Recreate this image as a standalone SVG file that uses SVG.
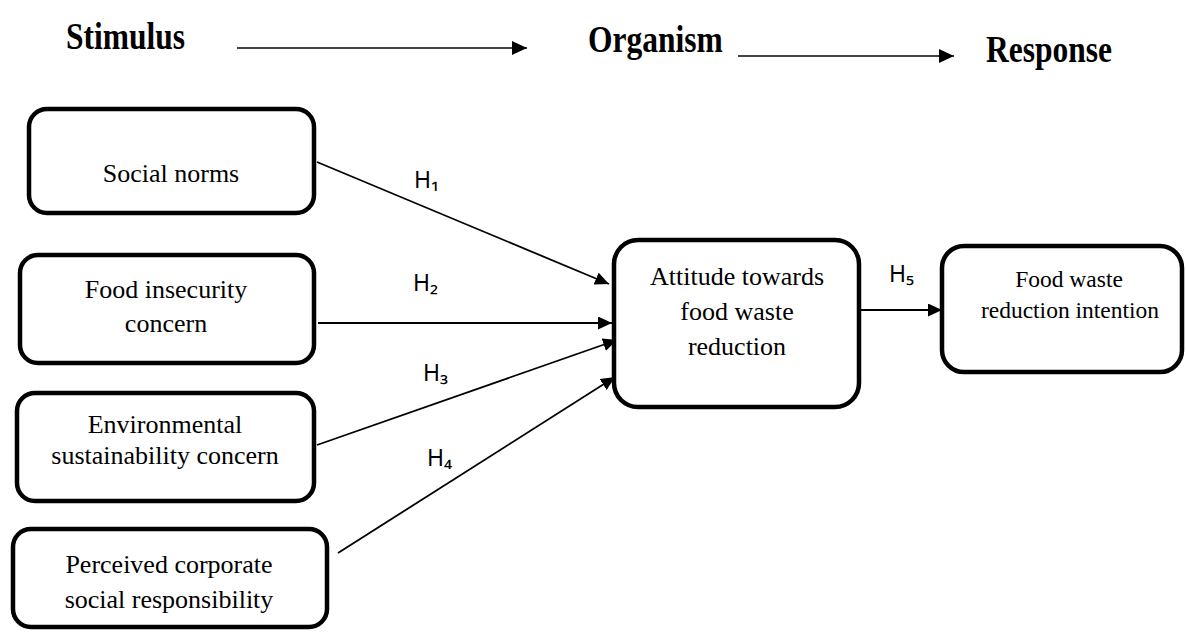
<svg xmlns="http://www.w3.org/2000/svg" width="1186" height="632" viewBox="0 0 1186 632">
<style>
.box{fill:#fff;stroke:#000;stroke-width:4.5}
.hdr{font-family:"Liberation Serif","Times New Roman",serif;font-weight:bold;font-size:31.5px;fill:#000}
.t{font-family:"Liberation Serif","Times New Roman",serif;font-size:26px;fill:#000;text-anchor:middle}
.ts{font-family:"Liberation Serif","Times New Roman",serif;font-size:23.5px;fill:#000;text-anchor:middle}
.h{font-family:"Noto Sans","DejaVu Sans",sans-serif;font-size:23px;fill:#000}
.c{stroke:#000;stroke-width:1.8;fill:none}
.top{stroke:#444;stroke-width:2.2;fill:none}
</style>
<defs>
<marker id="ah" markerUnits="userSpaceOnUse" markerWidth="15" markerHeight="13" refX="14" refY="6.5" orient="auto">
<path d="M0,0 L14,6.5 L0,13 z" fill="#000"/>
</marker>
<marker id="ahTop" markerUnits="userSpaceOnUse" markerWidth="16" markerHeight="14" refX="15" refY="7" orient="auto">
<path d="M0,0 L15,7 L0,14 z" fill="#000"/>
</marker>
</defs>

<g id="headers">
<text class="hdr" transform="translate(66,49) scale(1,1.2)">Stimulus</text>
<text class="hdr" transform="translate(588,52) scale(1,1.2)">Organism</text>
<text class="hdr" transform="translate(986,62) scale(1,1.2)">Response</text>
</g>

<g id="connectors">
<line class="top" x1="237" y1="48" x2="527" y2="48" marker-end="url(#ahTop)"/>
<line class="top" x1="738" y1="56" x2="954" y2="56" marker-end="url(#ahTop)"/>
<line class="c" x1="317" y1="162" x2="609" y2="284" marker-end="url(#ah)"/>
<line class="c" x1="318" y1="323" x2="612" y2="323" marker-end="url(#ah)"/>
<line class="c" x1="317" y1="445" x2="617" y2="340" marker-end="url(#ah)"/>
<line class="c" x1="338" y1="553" x2="615" y2="377" marker-end="url(#ah)"/>
<line class="c" x1="860" y1="310" x2="942" y2="310" marker-end="url(#ah)"/>
<text class="h" x="414" y="188">H₁</text>
<text class="h" x="413" y="291">H₂</text>
<text class="h" x="423" y="381">H₃</text>
<text class="h" x="427" y="466">H₄</text>
<text class="h" x="889" y="282">H₅</text>
</g>

<g id="social-norms">
<rect class="box" x="29" y="109" width="285" height="104" rx="18"/>
<text class="t" x="171" y="182">Social norms</text>
</g>

<g id="food-insecurity">
<rect class="box" x="20" y="255" width="294" height="108" rx="18"/>
<text class="t" x="166" y="298">Food insecurity</text>
<text class="t" x="166" y="332">concern</text>
</g>

<g id="environmental">
<rect class="box" x="17" y="393" width="297" height="108" rx="18"/>
<text class="t" x="165" y="433">Environmental</text>
<text class="t" x="165" y="464">sustainability concern</text>
</g>

<g id="csr">
<rect class="box" x="13" y="529" width="314" height="98" rx="18"/>
<text class="t" x="169" y="573">Perceived corporate</text>
<text class="t" x="169" y="608">social responsibility</text>
</g>

<g id="attitude">
<rect class="box" x="614" y="240" width="245" height="167" rx="24"/>
<text class="t" x="737" y="285">Attitude towards</text>
<text class="t" x="737" y="320">food waste</text>
<text class="t" x="737" y="355">reduction</text>
</g>

<g id="intention">
<rect class="box" x="942" y="246" width="240" height="126" rx="22"/>
<text class="ts" x="1069" y="287">Food waste</text>
<text class="ts" x="1070" y="318">reduction intention</text>
</g>
</svg>
